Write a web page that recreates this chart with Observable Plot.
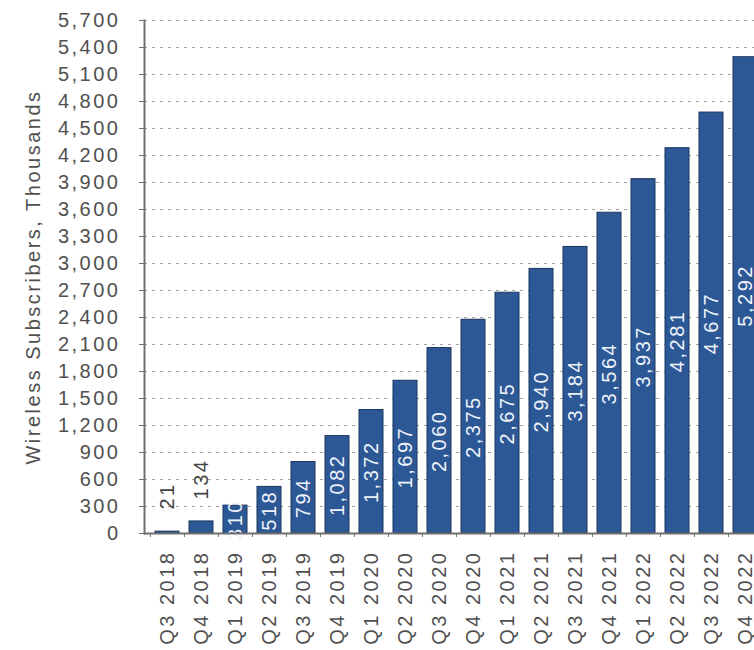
<!DOCTYPE html>
<html>
<head>
<meta charset="utf-8">
<script src="https://cdn.jsdelivr.net/npm/d3@7"></script>
<script src="https://cdn.jsdelivr.net/npm/@observablehq/plot@0.6"></script>
<style>
  html, body { margin: 0; padding: 0; background: #fff; overflow: hidden; }
  #chart svg { overflow: hidden !important; display: block; }
</style>
</head>
<body>
<div id="chart"></div>
<script>
// ---- data ----
const quarters = ["Q3 2018","Q4 2018","Q1 2019","Q2 2019","Q3 2019","Q4 2019","Q1 2020","Q2 2020","Q3 2020","Q4 2020","Q1 2021","Q2 2021","Q3 2021","Q4 2021","Q1 2022","Q2 2022","Q3 2022","Q4 2022"];
const subscribers = [21, 134, 310, 518, 794, 1082, 1372, 1697, 2060, 2375, 2675, 2940, 3184, 3564, 3937, 4281, 4677, 5292];
const yTicks = [0,300,600,900,1200,1500,1800,2100,2400,2700,3000,3300,3600,3900,4200,4500,4800,5100,5400,5700];
const yTitle = "Wireless Subscribers, Thousands";

const data = quarters.map((q, i) => ({q, v: subscribers[i]}));
const fmt = d3.format(",");

// layout
const W = 754, H = 650;
const xRange = [149, 763];
const step = (xRange[1] - xRange[0]) / quarters.length;
const inside = data.filter(d => d.v >= 250);
const outside = data.filter(d => d.v < 250);

const chart = Plot.plot({
  width: W,
  height: H,
  marginLeft: 144,
  marginRight: 0,
  marginTop: 20,
  marginBottom: 117,
  style: {fontFamily: "'Liberation Sans', Arial, sans-serif", fontSize: "20px", letterSpacing: "2.5px", color: "#505050", background: "#fff"},
  x: {type: "band", domain: quarters, range: xRange, paddingInner: 0.28, paddingOuter: 0.14},
  y: {domain: [0, 5700]},
  marks: [
    Plot.gridY(yTicks.slice(1), {stroke: "#8a8a8a", strokeOpacity: 0.8, strokeDasharray: "3,5", strokeWidth: 1}),
    Plot.barY(data, {x: "q", y: "v", fill: "#2d5896", stroke: "#1b365f", strokeWidth: 1}),
    Plot.text(inside, {x: "q", y: d => d.v / 2, text: d => fmt(d.v), rotate: -90, fill: "#eef3fb", fontSize: 20}),
    Plot.text(outside, {x: "q", y: "v", text: d => fmt(d.v), rotate: -90, textAnchor: "start", dy: -22, fill: "#444", fontSize: 20}),
    Plot.ruleY([0], {stroke: "#707070", strokeWidth: 2}),
    Plot.frame({anchor: "left", stroke: "#707070", strokeWidth: 2}),
    Plot.axisY({ticks: yTicks, tickFormat: fmt, tickSize: 5, tickPadding: 19, label: null, stroke: "#707070"}),
    Plot.axisX({tickRotate: -90, tickSize: 0, tickPadding: 17, label: null}),
    Plot.axisX({tickSize: 4, tickFormat: () => "", dx: -step / 2, label: null, stroke: "#707070"}),
    Plot.text([yTitle], {frameAnchor: "left", textAnchor: "middle", dx: -111, rotate: -90, fill: "#505050", fontSize: 20})
  ]
});
document.getElementById("chart").append(chart);
</script>
</body>
</html>
